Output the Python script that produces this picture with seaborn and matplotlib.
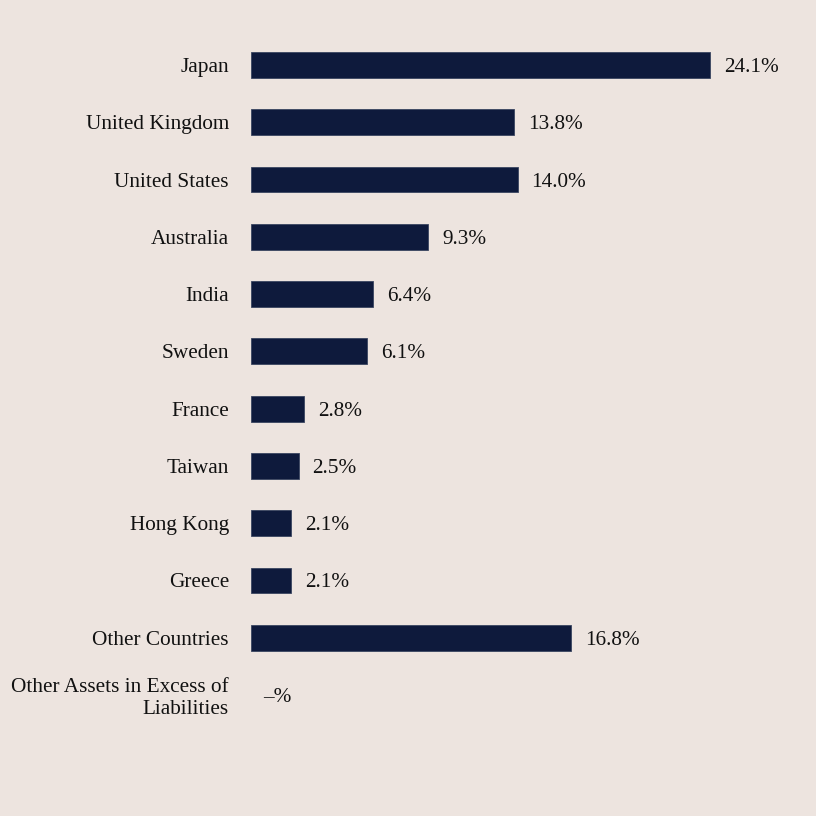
import matplotlib
matplotlib.use("Agg")
import matplotlib.pyplot as plt
import seaborn as sns
import pandas as pd

countries = ["Japan", "United Kingdom", "United States", "Australia", "India", "Sweden",
             "France", "Taiwan", "Hong Kong", "Greece", "Other Countries",
             "Other Assets in Excess of\nLiabilities"]
values = [24.1, 13.8, 14.0, 9.3, 6.4, 6.1, 2.8, 2.5, 2.1, 2.1, 16.8, 0.0]
value_labels = ["24.1%", "13.8%", "14.0%", "9.3%", "6.4%", "6.1%", "2.8%", "2.5%",
                "2.1%", "2.1%", "16.8%", "\u2013%"]

df = pd.DataFrame({"country": countries, "value": values})

sns.set_theme(style="white")
plt.rcParams["font.family"] = ["Liberation Serif", "DejaVu Serif"]

bg = "#ede4df"
bar_color = "#0e1a3c"
fs = 15.3

fig = plt.figure(figsize=(8.16, 8.16), dpi=100, facecolor=bg)
ax = fig.add_axes([251/816, 0.1132, 533/816, 0.8422])
ax.set_facecolor(bg)

sns.barplot(data=df, x="value", y="country", orient="h", color=bar_color,
            width=0.45, saturation=1, ax=ax, edgecolor="#3a4560", linewidth=0.6)
for p, v in zip(ax.patches, values):
    if v == 0:
        p.set_linewidth(0)
        p.set_visible(False)

ax.set_xlim(0, 28)
ax.set_ylim(len(countries) - 0.5, -0.5)
ax.set_xlabel("")
ax.set_ylabel("")
ax.set_xticks([])
for s in ax.spines.values():
    s.set_visible(False)
ax.tick_params(axis="y", length=0, pad=22 * 0.72, labelsize=fs, labelcolor="#111111")
for lbl in ax.get_yticklabels():
    lbl.set_linespacing(1.15)

for i, (v, t) in enumerate(zip(values, value_labels)):
    off = 14 if v > 0 else 12
    ax.annotate(t, xy=(v, i), xytext=(off * 0.72, 0), textcoords="offset points",
                va="center_baseline", ha="left", fontsize=fs, color="#111111")

fig.savefig("out.png", dpi=100, facecolor=bg)
